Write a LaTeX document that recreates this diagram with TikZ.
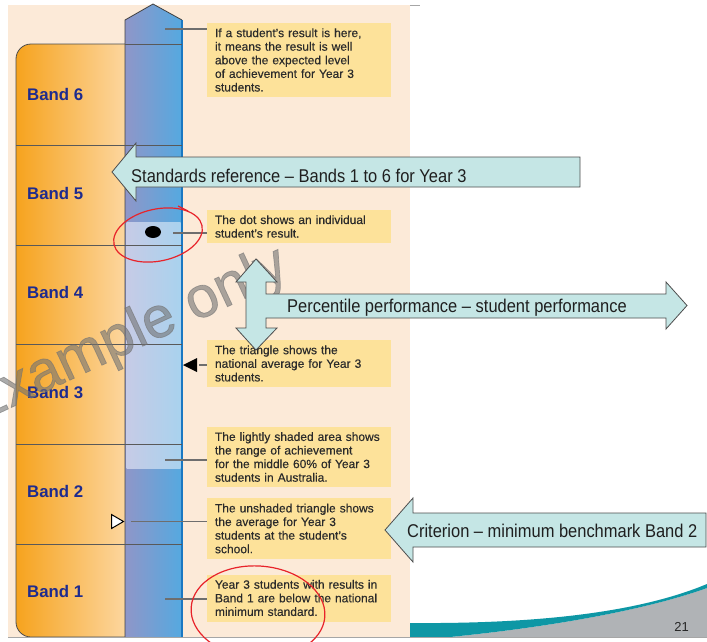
\documentclass[tikz,border=0pt]{standalone}
\usepackage{fontspec}
\setmainfont{Liberation Sans}
\newfontfamily\narrowfont[FakeStretch=0.89]{Liberation Sans}
\newfontfamily\wmfont[FakeBold=1.2]{Liberation Sans}
\newfontfamily\notefont[FakeBold=0.35]{Liberation Sans}
\definecolor{peach}{HTML}{FCEAD8}
\definecolor{orangeL}{HTML}{F6A31E}
\definecolor{orangeR}{HTML}{FDDDB0}
\definecolor{colL}{HTML}{8F96C8}
\definecolor{colR}{HTML}{55A9E0}
\definecolor{lightL}{HTML}{C6CBE6}
\definecolor{lightR}{HTML}{A9D2EE}
\definecolor{coledge}{HTML}{1A78C2}
\definecolor{notefill}{HTML}{FDE29A}
\definecolor{notetext}{HTML}{2B2B2B}
\definecolor{bandblue}{HTML}{1E2B8E}
\definecolor{conngray}{HTML}{6E6E6E}
\definecolor{arrowfill}{HTML}{C5E6E5}
\definecolor{arrowline}{HTML}{4D4D4D}
\definecolor{penred}{HTML}{E8232A}
\definecolor{teal}{HTML}{0E97A5}
\definecolor{swgray}{HTML}{B0B3B6}
\begin{document}
\begin{tikzpicture}[x=1pt,y=-1pt,
  note/.style={fill=notefill, text=notetext, font=\notefont\fontsize{12}{13.6}\selectfont,
    text width=168pt, inner xsep=8pt, inner ysep=2pt, align=left},
  bandlabel/.style={font=\fontsize{16.8}{16.8}\selectfont\bfseries, text=bandblue,
    anchor=west, inner sep=0pt},
  conn/.style={draw=conngray, line width=1.3pt},
  bigarrow/.style={fill=arrowfill, draw=arrowline, line width=0.8pt, line join=miter},
  arrowtext/.style={font=\narrowfont\fontsize{18.5}{18.5}\selectfont, text=black!88,
    anchor=base west, inner sep=0pt},
  bandline/.style={draw=black!65, line width=0.8pt},
  redpen/.style={draw=penred, line width=1.2pt},
]
\useasboundingbox (0,0) rectangle (707,641);
\begin{scope}
\clip (0,0) rectangle (707,641);
\fill[white] (0,0) rectangle (707,641);
% page background
\fill[peach] (8,5) rectangle (410,637);
\draw[black!35, line width=0.6pt] (410,5) -- (420,5);
% orange band column
\shade[left color=orangeL, right color=orangeR, rounded corners=15pt, draw=black!70, line width=0.8pt]
  (16,44) rectangle (140,637);
% blue scale column
\shade[left color=colL, right color=colR]
  (125,637) -- (125,20) -- (153,4) -- (182,20) -- (182,637) -- cycle;
\shade[left color=lightL, right color=lightR] (126.5,222) rectangle (180.5,468);
\draw[black!75, line width=0.8pt] (125,637) -- (125,20) -- (153,4) -- (182,20);
\draw[coledge, line width=1.6pt] (182,20) -- (182,637);
% band lines
\draw[bandline] (125,44) -- (182,44);
\foreach \yy in {145,245,344,444,544} \draw[bandline] (16,\yy) -- (182,\yy);
% band labels
\node[bandlabel] (b6) at (27,94) {Band 6};
\node[bandlabel] (b5) at (27,193.5) {Band 5};
\node[bandlabel] (b4) at (27,292.5) {Band 4};
\node[bandlabel] (b3) at (27,392) {Band 3};
\node[bandlabel] (b2) at (27,491.5) {Band 2};
\node[bandlabel] (b1) at (27,591) {Band 1};
% notes
\node[note, minimum height=74pt] (n1) at (299,60) {If a student’s result is here,\\ it means the result is well\\ above the expected level\\ of achievement for Year 3\\ students.};
\node[note, minimum height=33pt] (n2) at (299,226.5) {The dot shows an individual\\ student’s result.};
\node[note, minimum height=47pt] (n3) at (299,363.5) {The triangle shows the\\ national average for Year 3\\ students.};
\node[note, minimum height=60pt] (n4) at (299,457) {The lightly shaded area shows\\ the range of achievement\\ for the middle 60\% of Year 3\\ students in Australia.};
\node[note, minimum height=61pt] (n5) at (299,528.5) {The unshaded triangle shows\\ the average for Year 3\\ students at the student’s\\ school.};
\node[note, minimum height=47pt] (n6) at (299,598) {Year 3 students with results in\\ Band 1 are below the national\\ minimum standard.};
% markers
\fill[black] (153,232) ellipse[x radius=8pt, y radius=6pt];
\fill[black] (183,365) -- (197,358) -- (197,372) -- cycle;
\draw[black, line width=1pt, fill=white] (123.5,521.5) -- (111.5,514.5) -- (111.5,528.5) -- cycle;
% connectors
\coordinate (c1) at (165,29);
\coordinate (c2) at (173,233);
\coordinate (c3) at (199,365);
\coordinate (c4) at (165,460);
\coordinate (c5) at (131,521.5);
\coordinate (c6) at (165,599);
\draw[conn] (c1) -- (c1 -| n1.west);
\draw[conn] (c2) -- (c2 -| n2.west);
\draw[conn] (c3) -- (c3 -| n3.west);
\draw[conn] (c4) -- (c4 -| n4.west);
\draw[conn] (c5) -- (c5 -| n5.west);
\draw[conn] (c6) -- (c6 -| n6.west);
% watermark
\node[rotate=25, text=black!55, opacity=0.6, font=\wmfont\fontsize{58}{58}\selectfont, inner sep=0pt]
  (wm) at (127,337) {Example only};
% big arrows
\draw[bigarrow] (580,157) -- (136,157) -- (136,143) -- (112,172) -- (136,201) -- (136,187) -- (580,187) -- cycle;
\node[arrowtext] (t1) at (131,182) {Standards reference – Bands 1 to 6 for Year 3};
\draw[bigarrow] (256,259) -- (277,282) -- (266,282) -- (266,294) -- (666,294) -- (666,282)
  -- (687,305.5) -- (666,329) -- (666,318) -- (266,318) -- (266,328) -- (277,328)
  -- (256,350) -- (236,328) -- (246,328) -- (246,282) -- (236,282) -- cycle;
\node[arrowtext] (t2) at (287,312) {Percentile performance – student performance};
\draw[bigarrow] (706,513) -- (413,513) -- (413,498) -- (385,530) -- (413,562) -- (413,547) -- (706,547) -- cycle;
\node[arrowtext] (t3) at (407,537) {Criterion – minimum benchmark Band 2};
% bottom swoosh
\fill[swgray] (707,588) .. controls (640,612) and (540,628) .. (450,637) -- (707,637) -- cycle;
\fill[teal] (410,623) .. controls (540,624) and (640,612) .. (707,584) -- (707,588)
  .. controls (640,612) and (540,628) .. (450,637) -- (410,637) -- cycle;
\draw[black!35, line width=1pt] (8,637.5) -- (707,637.5);
\node[font=\fontsize{13}{13}\selectfont, text=black!85, inner sep=0pt] (pg) at (681.5,627) {21};
% red pen marks
\draw[redpen, rotate around={12:(158,235)}] (158,235) ellipse[x radius=45pt, y radius=26pt];
\draw[redpen] (178,206) -- (188,211);
\draw[redpen, rotate around={-4:(258,612)}] (258,612) ellipse[x radius=67pt, y radius=46pt];
\end{scope}
\end{tikzpicture}
\end{document}
